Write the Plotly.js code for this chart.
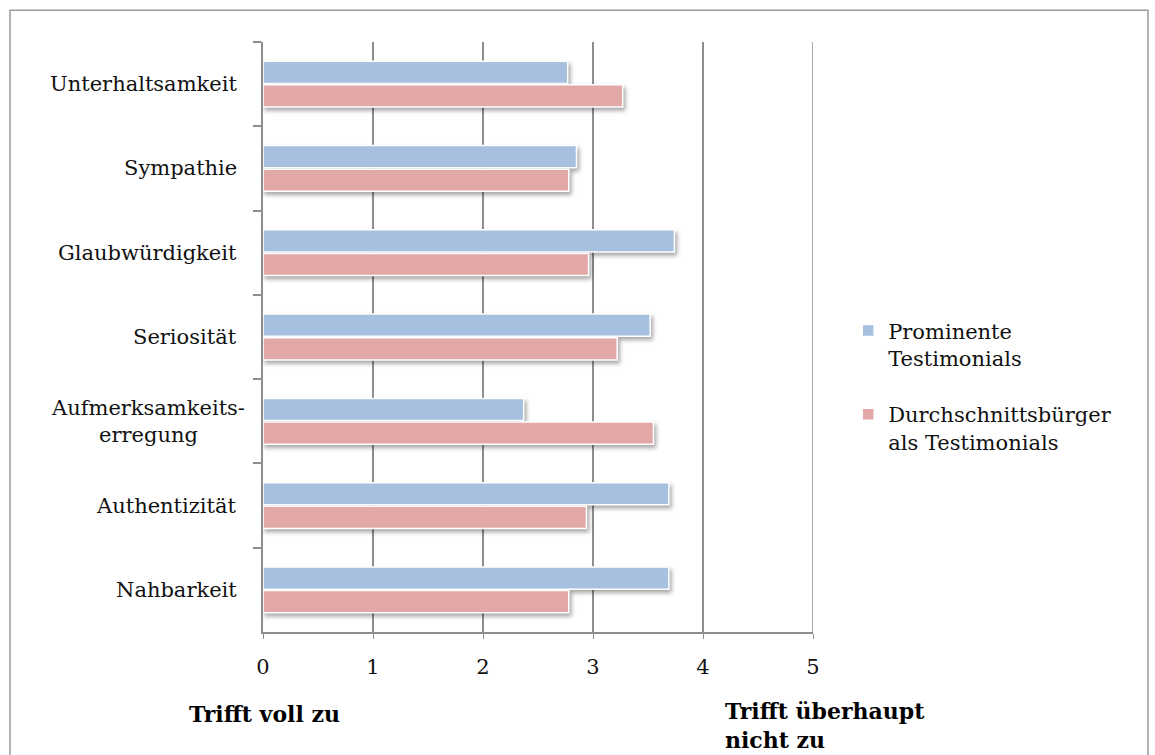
<!DOCTYPE html>
<html>
<head>
<meta charset="utf-8">
<script src="https://cdn.plot.ly/plotly-3.0.1.min.js"></script>
<style>
  html, body { margin: 0; padding: 0; background: #ffffff; }
  #chart { width: 1155px; height: 755px; }
  /* soft drop shadow under each bar */
  #chart .trace.bars .point path { filter: drop-shadow(2px 3px 2px rgba(0, 0, 0, 0.35)); }
</style>
</head>
<body>
<div id="chart"></div>
<script>
// Bewertungskriterien (von oben nach unten)
const categories = [
  'Unterhaltsamkeit',
  'Sympathie',
  'Glaubwürdigkeit',
  'Seriosität',
  'Aufmerksamkeits-<br>erregung',
  'Authentizität',
  'Nahbarkeit'
];

// Mittelwerte je Gruppe (1 = trifft voll zu, 5 = trifft überhaupt nicht zu)
const prominente = [2.77, 2.85, 3.74, 3.52, 2.37, 3.69, 3.69];
const durchschnittsbuerger = [3.27, 2.78, 2.96, 3.22, 3.55, 2.94, 2.78];

const seriesNames = ['Prominente<br>Testimonials', 'Durchschnittsbürger<br>als Testimonials'];
const seriesColors = ['#a7c0df', '#e2a8a7'];

const xTickValues = [0, 1, 2, 3, 4, 5];
const scaleLabels = ['<b>Trifft voll zu</b>', '<b>Trifft überhaupt<br>nicht zu</b>'];

const FONT = 'DejaVu Serif, Liberation Serif, serif';
const GRID = '#8e8e8e';

const traces = [
  {
    type: 'bar', orientation: 'h',
    name: seriesNames[0], legendgroup: 'a',
    y: categories, x: prominente,
    marker: { color: seriesColors[0], line: { color: '#ffffff', width: 1.5 } },
    hoverinfo: 'x+name'
  },
  {
    type: 'bar', orientation: 'h',
    name: seriesNames[1], legendgroup: 'b',
    y: categories, x: durchschnittsbuerger,
    marker: { color: seriesColors[1], line: { color: '#ffffff', width: 1.5 } },
    hoverinfo: 'x+name'
  }
];

// category labels, centred line by line left of the axis
const catAnnotations = categories.map(c => ({
  xref: 'paper', x: 0, xanchor: 'right', xshift: c.includes('<br>') ? -16 : -24,
  yref: 'y', y: c, yanchor: 'middle',
  text: c, showarrow: false, align: 'center',
  font: { family: FONT, size: 21, color: '#111' }
}));

const scaleAnnotations = [
  {
    xref: 'paper', x: -0.138, xanchor: 'left',
    yref: 'paper', y: -0.139, yanchor: 'middle',
    text: scaleLabels[0], showarrow: false, align: 'left',
    font: { family: FONT, size: 22, color: '#000' }
  },
  {
    xref: 'paper', x: 0.836, xanchor: 'left',
    yref: 'paper', y: -0.158, yanchor: 'middle',
    text: scaleLabels[1], showarrow: false, align: 'left',
    font: { family: FONT, size: 22, color: '#000' }
  }
];

const layout = {
  width: 1155, height: 755,
  margin: { l: 263, r: 342, t: 42, b: 123, pad: 0 },
  paper_bgcolor: '#ffffff', plot_bgcolor: '#ffffff',
  barmode: 'group', bargap: 0.44, bargroupgap: 0.06,
  showlegend: true,
  legend: {
    x: 1.064, xanchor: 'left', y: 0.545, yanchor: 'top',
    valign: 'top', traceorder: 'grouped', tracegroupgap: 26,
    font: { family: FONT, size: 21, color: '#111' },
    bgcolor: 'rgba(0,0,0,0)'
  },
  xaxis: {
    range: [0, 5], tickvals: xTickValues, ticktext: xTickValues.map(String),
    showgrid: true, gridcolor: GRID, gridwidth: 1.5,
    zeroline: false, showline: true, linecolor: GRID, linewidth: 1.5,
    ticks: 'outside', ticklen: 5, tickcolor: GRID, tickwidth: 1,
    ticklabelstandoff: 10,
    tickfont: { family: FONT, size: 21, color: '#111' },
    fixedrange: true
  },
  yaxis: {
    type: 'category', range: [6.5, -0.5],
    showgrid: false, zeroline: false,
    showline: true, linecolor: GRID, linewidth: 1.5,
    ticks: 'outside', tickson: 'boundaries', ticklen: 8, tickcolor: GRID, tickwidth: 1.5,
    showticklabels: false,
    fixedrange: true
  },
  shapes: [
    // frame around the chart
    {
      type: 'rect', xref: 'paper', yref: 'paper',
      x0: -0.460, x1: 1.609, y0: -0.40, y1: 1.054,
      line: { color: '#9a9a9a', width: 1.5 }, fillcolor: 'rgba(0,0,0,0)', layer: 'below'
    },
    // grid line at the last tick (right edge of the plot area)
    {
      type: 'line', xref: 'x', yref: 'paper',
      x0: xTickValues[xTickValues.length - 1], x1: xTickValues[xTickValues.length - 1],
      y0: 0, y1: 1,
      line: { color: GRID, width: 1.5 }, layer: 'below'
    }
  ],
  annotations: catAnnotations.concat(scaleAnnotations)
};

Plotly.newPlot('chart', traces, layout, { displayModeBar: false });
</script>
</body>
</html>
